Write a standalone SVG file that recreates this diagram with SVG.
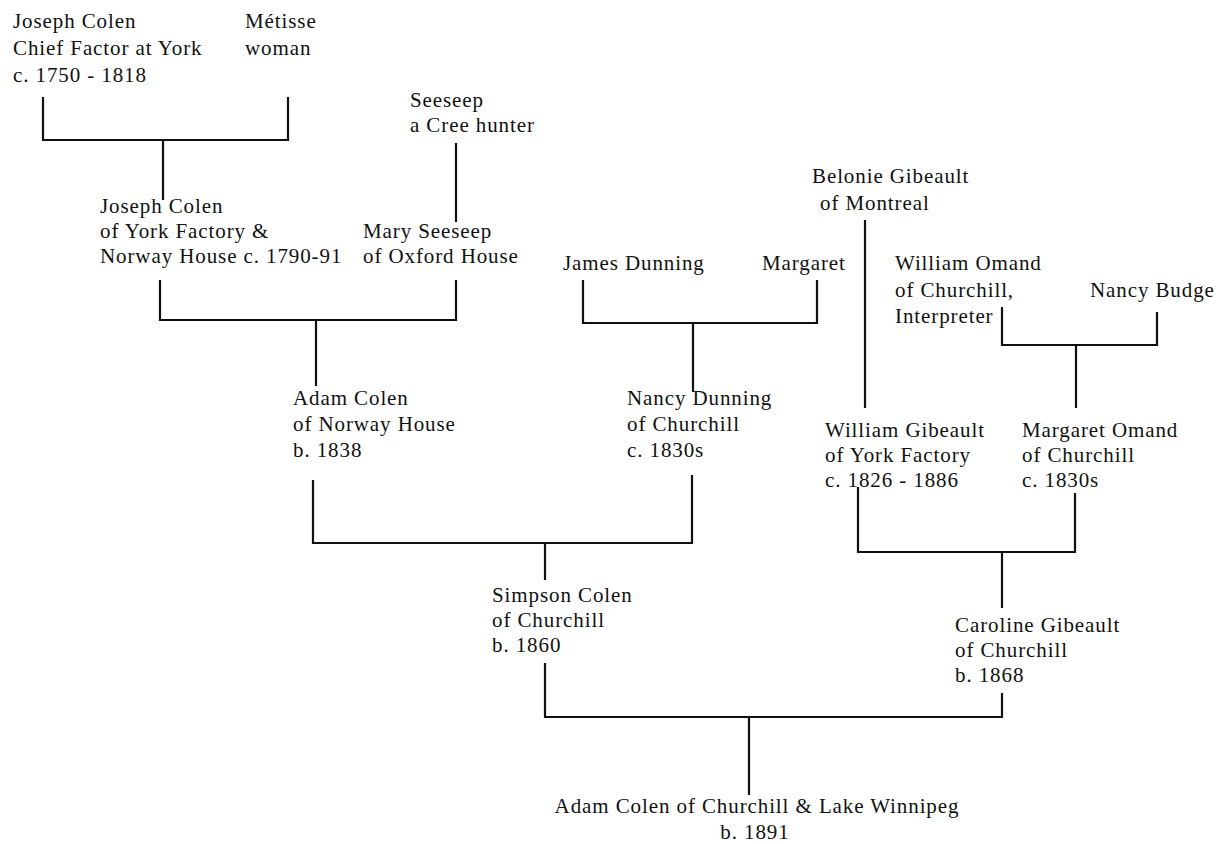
<svg xmlns="http://www.w3.org/2000/svg" width="1220" height="844" viewBox="0 0 1220 844">
<style>
text{font-family:"Liberation Serif","Times New Roman",serif;font-size:21px;letter-spacing:0.9px;fill:#111}
.c{text-anchor:middle}
#connectors path{fill:none;stroke:#111;stroke-width:2.2;stroke-linecap:butt;stroke-linejoin:miter}
</style>
<rect width="1220" height="844" fill="#fff"/>
<g id="connectors">
<path d="M43 97V140H288V97"/>
<path d="M163 140V200"/>
<path d="M456 143V222"/>
<path d="M160 280V320H456V280"/>
<path d="M316 320V386"/>
<path d="M583 280V323H817V280"/>
<path d="M693 323V392"/>
<path d="M865 220V408"/>
<path d="M1002 307V345H1157V312"/>
<path d="M1076 345V408"/>
<path d="M313 480V543H692V475"/>
<path d="M545 543V580"/>
<path d="M858 487V552H1075V493"/>
<path d="M1002 552V608"/>
<path d="M545 663V717H1002V693"/>
<path d="M749 717V795"/>
</g>
<g id="joseph-colen-sr"><text x="13" y="28">Joseph Colen</text><text x="13" y="55">Chief Factor at York</text><text x="13" y="82">c. 1750 - 1818</text></g>
<g id="metisse-woman"><text x="245" y="28">Métisse</text><text x="245" y="55">woman</text></g>
<g id="seeseep"><text x="410" y="107">Seeseep</text><text x="410" y="132">a Cree hunter</text></g>
<g id="joseph-colen-jr"><text x="100" y="213">Joseph Colen</text><text x="100" y="238">of York Factory &amp;</text><text x="100" y="263">Norway House c. 1790-91</text></g>
<g id="mary-seeseep"><text x="363" y="238">Mary Seeseep</text><text x="363" y="263">of Oxford House</text></g>
<g id="belonie-gibeault"><text x="812" y="183">Belonie Gibeault</text><text x="820" y="210">of Montreal</text></g>
<g id="james-dunning"><text x="563" y="270">James Dunning</text></g>
<g id="margaret"><text x="762" y="270">Margaret</text></g>
<g id="william-omand"><text x="895" y="270">William Omand</text><text x="895" y="297">of Churchill,</text><text x="895" y="323">Interpreter</text></g>
<g id="nancy-budge"><text x="1090" y="297">Nancy Budge</text></g>
<g id="adam-colen-sr"><text x="293" y="405">Adam Colen</text><text x="293" y="431">of Norway House</text><text x="293" y="457">b. 1838</text></g>
<g id="nancy-dunning"><text x="627" y="405">Nancy Dunning</text><text x="627" y="431">of Churchill</text><text x="627" y="457">c. 1830s</text></g>
<g id="william-gibeault"><text x="825" y="437">William Gibeault</text><text x="825" y="462">of York Factory</text><text x="825" y="487">c. 1826 - 1886</text></g>
<g id="margaret-omand"><text x="1022" y="437">Margaret Omand</text><text x="1022" y="462">of Churchill</text><text x="1022" y="487">c. 1830s</text></g>
<g id="simpson-colen"><text x="492" y="602">Simpson Colen</text><text x="492" y="627">of Churchill</text><text x="492" y="652">b. 1860</text></g>
<g id="caroline-gibeault"><text x="955" y="632">Caroline Gibeault</text><text x="955" y="657">of Churchill</text><text x="955" y="682">b. 1868</text></g>
<g id="adam-colen-jr"><text class="c" x="757" y="813">Adam Colen of Churchill &amp; Lake Winnipeg</text><text class="c" x="755" y="839">b. 1891</text></g>
</svg>
